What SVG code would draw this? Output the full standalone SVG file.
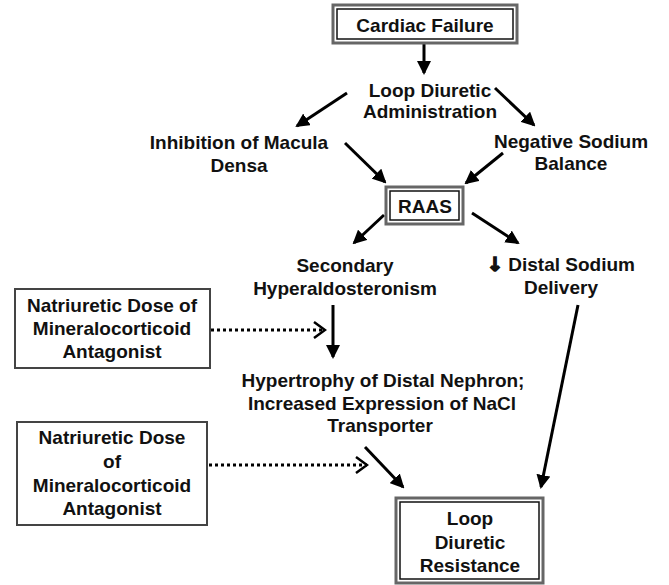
<svg xmlns="http://www.w3.org/2000/svg" width="669" height="585" viewBox="0 0 669 585">
<defs>
<style>
text{font-family:"Liberation Sans",Arial,sans-serif;font-weight:bold;font-size:19px;fill:#111;text-anchor:middle}
.arr{font-family:"DejaVu Sans",sans-serif;font-size:19px;stroke:#111;stroke-width:1.6}
.c{stroke:#000;stroke-width:3;fill:none}
.d{stroke:#000;stroke-width:3;fill:none;stroke-dasharray:3 3}
.outer{fill:#fff;stroke:#666;stroke-width:3}
.inner{fill:none;stroke:#111;stroke-width:1.5}
.single{fill:#fff;stroke:#444;stroke-width:2}
</style>
<marker id="ah" viewBox="0 0 14 14" refX="12" refY="7" markerWidth="14" markerHeight="14" orient="auto" markerUnits="userSpaceOnUse"><path d="M0,0 L14,7 L0,14 z" fill="#000"/></marker>
<marker id="ch" viewBox="0 0 14 18" refX="12" refY="9" markerWidth="14" markerHeight="18" orient="auto" markerUnits="userSpaceOnUse"><path d="M1,1 L12,9 L1,17" fill="none" stroke="#000" stroke-width="2.5"/></marker>
</defs>
<rect width="669" height="585" fill="#fff"/>
<g id="connectors">
<line class="c" x1="424" y1="44" x2="424" y2="73" marker-end="url(#ah)"/>
<line class="c" x1="347" y1="93" x2="297" y2="126" marker-end="url(#ah)"/>
<line class="c" x1="495" y1="88" x2="534" y2="125" marker-end="url(#ah)"/>
<line class="c" x1="345" y1="143" x2="385" y2="182" marker-end="url(#ah)"/>
<line class="c" x1="503" y1="153" x2="466" y2="183" marker-end="url(#ah)"/>
<line class="c" x1="384" y1="215" x2="354" y2="243" marker-end="url(#ah)"/>
<line class="c" x1="472" y1="213" x2="518" y2="243" marker-end="url(#ah)"/>
<line class="c" x1="333" y1="305" x2="333" y2="357" marker-end="url(#ah)"/>
<line class="c" x1="578" y1="305" x2="541" y2="487" marker-end="url(#ah)"/>
<line class="c" x1="365" y1="447" x2="403" y2="487" marker-end="url(#ah)"/>
<line class="d" x1="211" y1="330" x2="325" y2="330" marker-end="url(#ch)"/>
<line class="d" x1="209" y1="465" x2="367" y2="465" marker-end="url(#ch)"/>
</g>
<g id="cardiac-failure">
<rect class="outer" x="333" y="5" width="184" height="38"/>
<rect class="inner" x="337" y="9" width="176" height="30"/>
<text x="425" y="32">Cardiac Failure</text>
</g>
<g id="loop-diuretic-administration">
<text x="430" y="97">Loop Diuretic</text>
<text x="430" y="118">Administration</text>
</g>
<g id="inhibition-macula-densa">
<text x="239" y="149">Inhibition of Macula</text>
<text x="239" y="172">Densa</text>
</g>
<g id="negative-sodium-balance">
<text x="571" y="148">Negative Sodium</text>
<text x="571" y="170">Balance</text>
</g>
<g id="raas">
<rect class="outer" x="386" y="187" width="77" height="37"/>
<rect class="inner" x="390" y="191" width="69" height="29"/>
<text x="425" y="213">RAAS</text>
</g>
<g id="secondary-hyperaldosteronism">
<text x="345" y="272">Secondary</text>
<text x="345" y="295">Hyperaldosteronism</text>
</g>
<g id="distal-sodium-delivery">
<text x="561" y="271"><tspan class="arr">↓</tspan> Distal Sodium</text>
<text x="561" y="294">Delivery</text>
</g>
<g id="mra-1">
<rect class="single" x="15" y="289" width="195" height="79"/>
<text x="112" y="312">Natriuretic Dose of</text>
<text x="112" y="335">Mineralocorticoid</text>
<text x="112" y="358">Antagonist</text>
</g>
<g id="hypertrophy">
<text x="383" y="387">Hypertrophy of Distal Nephron;</text>
<text x="382" y="410">Increased Expression of NaCl</text>
<text x="380" y="432">Transporter</text>
</g>
<g id="mra-2">
<rect class="single" x="17" y="422" width="190" height="103"/>
<text x="112" y="444">Natriuretic Dose</text>
<text x="112" y="468">of</text>
<text x="112" y="492">Mineralocorticoid</text>
<text x="112" y="515">Antagonist</text>
</g>
<g id="loop-diuretic-resistance">
<rect class="outer" x="396" y="498" width="147" height="85"/>
<rect class="inner" x="400" y="502" width="139" height="77"/>
<text x="470" y="525">Loop</text>
<text x="470" y="549">Diuretic</text>
<text x="470" y="572">Resistance</text>
</g>
</svg>
